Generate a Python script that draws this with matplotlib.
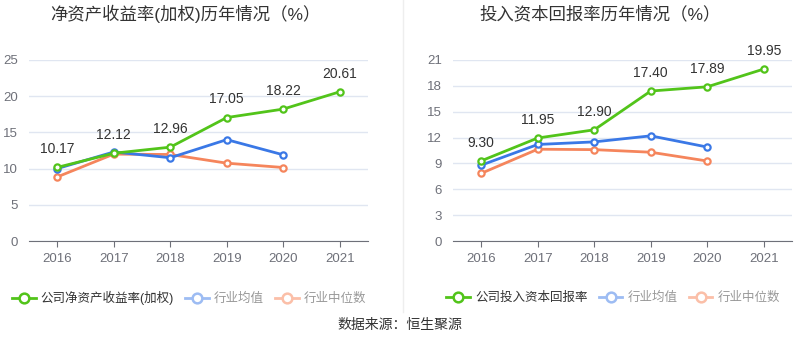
import numpy as np
import matplotlib.pyplot as plt
from matplotlib.lines import Line2D

plt.rcParams['font.family'] = ['Liberation Sans', 'Noto Sans CJK SC', 'DejaVu Sans']

years = ['2016', '2017', '2018', '2019', '2020', '2021']

# 净资产收益率(加权)
roe_company = [10.17, 12.12, 12.96, 17.05, 18.22, 20.61]
roe_avg = [10.0, 12.3, 11.5, 14.0, 11.9]
roe_median = [8.85, 12.0, 11.95, 10.75, 10.15]

# 投入资本回报率
roic_company = [9.30, 11.95, 12.90, 17.40, 17.89, 19.95]
roic_avg = [8.8, 11.2, 11.5, 12.2, 10.9]
roic_median = [7.85, 10.65, 10.6, 10.3, 9.28]

green = '#52c41a'
blue = '#3a78e6'
orange = '#f5855c'
W, H = 800, 358


def draw(ax, comp, avg, med, yticks, title, title_x, legend_name, legend_x):
    x = np.arange(len(years))
    ax.plot(x, comp, color=green, lw=2, marker='o', ms=4.5, mfc='white', mec=green, mew=1.6, zorder=4)
    ax.plot(x[:len(avg)], avg, color=blue, lw=2, marker='o', ms=4.5, mfc='white', mec=blue, mew=1.6, zorder=3)
    ax.plot(x[:len(med)], med, color=orange, lw=2, marker='o', ms=4.5, mfc='white', mec=orange, mew=1.6, zorder=2)
    for i, v in enumerate(comp):
        ax.annotate(f'{v:.2f}', (i, v), xytext=(0, 8), textcoords='offset points',
                    ha='center', va='bottom', fontsize=10, color='#333333')
    ax.set_xlim(-0.5, len(years) - 0.5)
    ax.set_ylim(yticks[0], yticks[-1])
    ax.set_yticks(yticks)
    ax.set_xticks(x)
    ax.set_xticklabels(years)
    ax.tick_params(axis='y', length=0, labelsize=9.5, labelcolor='#6e7079', pad=8)
    ax.tick_params(axis='x', length=4, color='#6e7079', labelsize=9.5, labelcolor='#6e7079', pad=5)
    ax.grid(axis='y', color='#e0e6f1', lw=1)
    ax.set_axisbelow(True)
    for s in ['top', 'right', 'left']:
        ax.spines[s].set_visible(False)
    ax.spines['bottom'].set_color('#6e7079')
    fig.text(title_x / W, 1 - 14 / H, title, ha='center', va='center', fontsize=12.5, color='#333333')
    handles = [
        Line2D([], [], color=green, lw=2, marker='o', ms=7, mfc='white', mec=green, mew=1.8),
        Line2D([], [], color='#9dbcf3', lw=2, marker='o', ms=7, mfc='white', mec='#9dbcf3', mew=1.8),
        Line2D([], [], color='#fbbfa8', lw=2, marker='o', ms=7, mfc='white', mec='#fbbfa8', mew=1.8),
    ]
    leg = fig.legend(handles, [legend_name, '行业均值', '行业中位数'], loc='center',
                     bbox_to_anchor=(legend_x / W, 1 - 298 / H), ncol=3, frameon=False,
                     fontsize=9, handlelength=1.9, handletextpad=0.4, columnspacing=0.9)
    cols = ['#333333', '#999999', '#999999']
    for t, c in zip(leg.get_texts(), cols):
        t.set_color(c)


fig = plt.figure(figsize=(8, 3.58), dpi=100)
ax1 = fig.add_axes([29 / W, 1 - 241 / H, 339 / W, 181 / H])
ax2 = fig.add_axes([453 / W, 1 - 241 / H, 339 / W, 181 / H])

draw(ax1, roe_company, roe_avg, roe_median, [0, 5, 10, 15, 20, 25],
     '净资产收益率(加权)历年情况（%）', 185, '公司净资产收益率(加权)', 189)
draw(ax2, roic_company, roic_avg, roic_median, [0, 3, 6, 9, 12, 15, 18, 21],
     '投入资本回报率历年情况（%）', 600, '公司投入资本回报率', 613)

fig.add_artist(Line2D([403 / W, 403 / W], [1 - 0 / H, 1 - 312 / H], color='#eeeeee', lw=1))
fig.text(400 / W, 1 - 325 / H, '数据来源：恒生聚源', ha='center', va='center', fontsize=10, color='#333333')

fig.savefig('out.png', dpi=100)
